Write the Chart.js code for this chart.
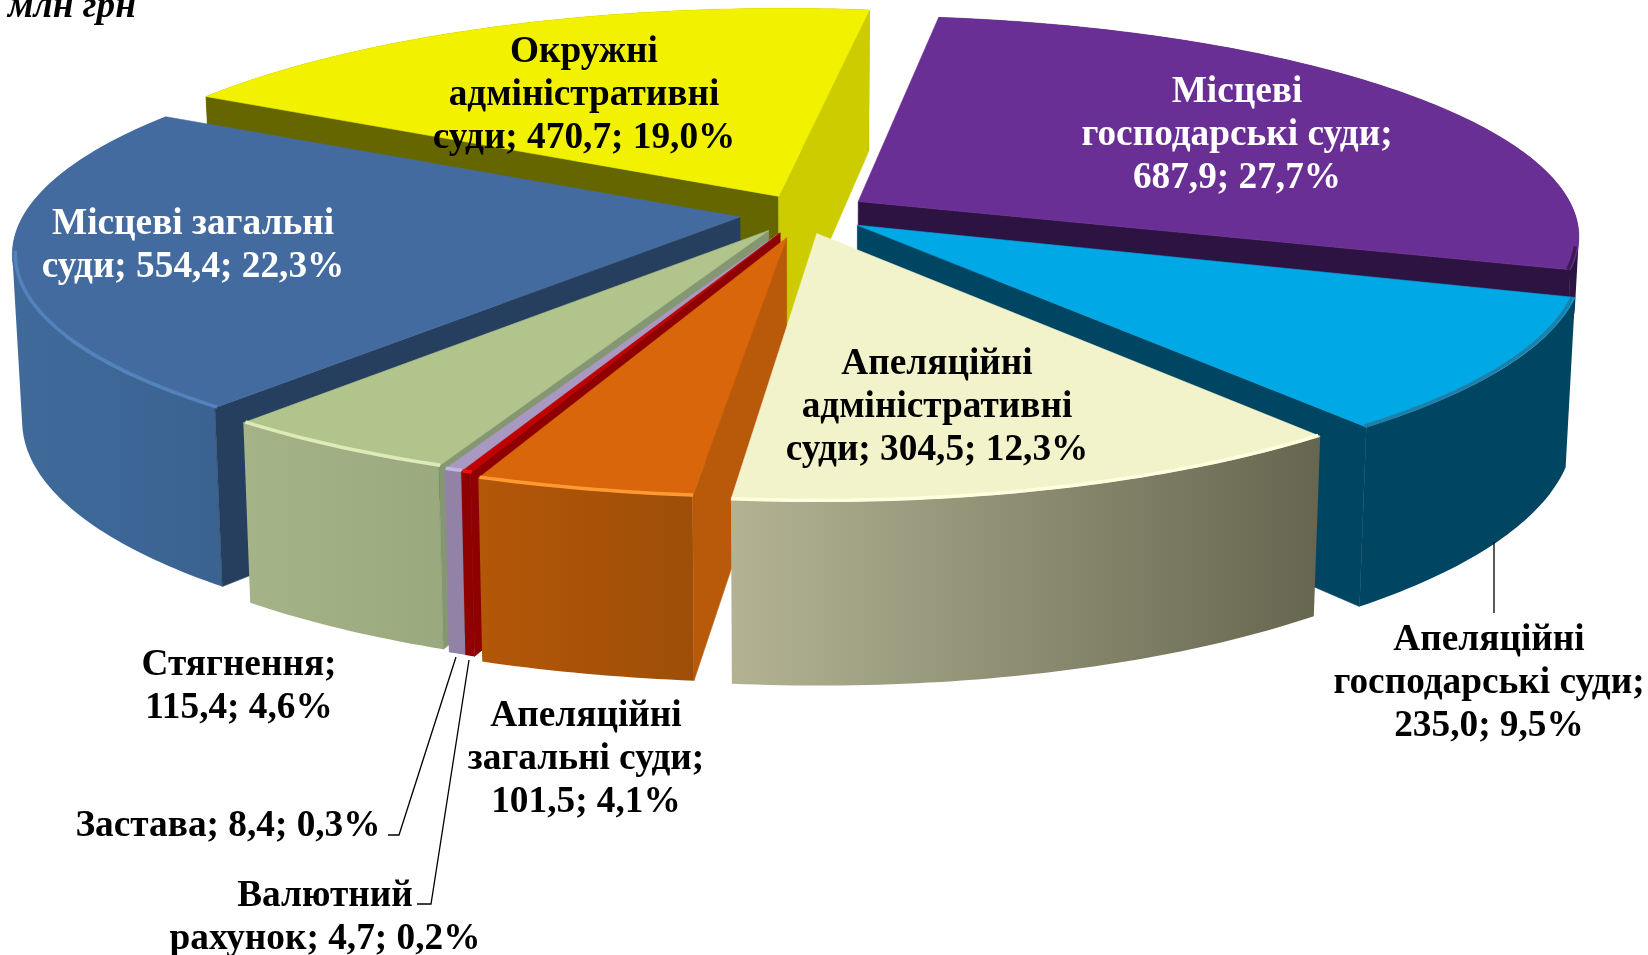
<!DOCTYPE html>
<html lang="uk"><head><meta charset="utf-8">
<style>html,body{margin:0;padding:0;background:#fff}canvas{display:block}</style>
<script src="https://cdn.jsdelivr.net/npm/chart.js@4"></script></head>
<body><canvas id="c" width="1648" height="955"></canvas>
<script>
const categories=['Місцеві господарські суди','Апеляційні господарські суди','Апеляційні адміністративні суди','Апеляційні загальні суди','Валютний рахунок','Застава','Стягнення','Місцеві загальні суди','Окружні адміністративні суди'];
const values=[687.9,235.0,304.5,101.5,4.7,8.4,115.4,554.4,470.7];
const topColors=['#6A2F94','#00A8E6','#F2F2CB','#D9660A','#C00000','#A999C2','#B0C48C','#446B9F','#F2F200'];
const explode=[.072,.072,.058,.09,.09,.09,.09,.1,.115];
// per-slice fine fit of the exploded wedge: [nudge x, nudge y, scale x, scale y, wall depth]
const fit=[[-1,-8,.98,.97,.4],[-1,-2,.975,1,1],[-10,3,.97,1,1],[-13,0,1,.96,1],[-11,-4,1,.96,1],[-10,-4,1,.96,1],[-12,-5,.98,.96,1],[-3,-5,.98,.97,1],[0,1,.99,1,1]];
const startCut=['#2D1342','#004561','#666650','#B85A0A','#8F0000','#857996','#859673','#263F5F','#666600'];
const endCut=['#2D1342','#004561','#666650','#B85A0A','#8F0000','#857996','#859673','#263F5F','#CCCC00'];
const wallFrom=['#2D1342','#004561','#B3B394','#B35708','#8F0000','#9182A6','#A5B488','#3F6A9A','#666600'];
const wallTo=['#2D1342','#004561','#666650','#9E4E08','#8F0000','#9182A6','#9AAA7E','#3A6391','#666600'];
const bevel=['#3D1B55','#1F7FA6','#FFFFDD','#FF9A33','#F01010','#C4B6DC','#DDEBB8','#5283BC','#F2F200'];
const paintOrder=[8,0,7,1,6,5,4,3,2];
const labelLines=[
 ['Місцеві','господарські суди;','687,9; 27,7%'],
 ['Апеляційні','господарські суди;','235,0; 9,5%'],
 ['Апеляційні','адміністративні','суди; 304,5; 12,3%'],
 ['Апеляційні','загальні суди;','101,5; 4,1%'],
 ['Валютний','рахунок; 4,7; 0,2%'],
 ['Застава; 8,4; 0,3%'],
 ['Стягнення;','115,4; 4,6%'],
 ['Місцеві загальні','суди; 554,4; 22,3%'],
 ['Окружні','адміністративні','суди; 470,7; 19,0%']];
const labelColor=['#fff','#000','#000','#000','#000','#000','#000','#fff','#000'];
const labelAt=[[1237,102],[1489,650],[937,374],[586,726],[325,906],[228,836],[239,675],[193,234],[584,62]];
const LINE=43, FONT='bold 37.3px "Liberation Serif"';
const leaders=[[[1494,542],[1494,613]],[[456,657],[399,835],[388,835]],[[469,660],[431,904],[417,904]]];
const unitLabel='млн грн';
// projection
const X0=815,Y0=218,RAD=730,KY=223,PERS=.152,SHR=.988;
function proj(u,v){const s=1/(1-PERS*v);return [X0+RAD*u*s,Y0+KY*v*s];}
function low(u,v){const p=proj(u,v);return [X0+(p[0]-X0)*SHR,p[1]+163+20*v];}
function poly(ctx,pts){ctx.beginPath();pts.forEach((p,i)=>i?ctx.lineTo(p[0],p[1]):ctx.moveTo(p[0],p[1]));ctx.closePath();}
const pie3d={id:'pie3d',
 beforeDatasetDraw(chart,args){
  const ctx=chart.ctx,arcs=chart.getDatasetMeta(args.index).data;
  ctx.save();ctx.lineJoin='round';
  paintOrder.forEach(i=>{
   const a=arcs[i],sa=a.startAngle,ea=a.endAngle,m=(sa+ea)/2,o=explode[i],[dx,dy,sx,sy,dp]=fit[i];
   const ou=o*Math.cos(m),ov=o*Math.sin(m),rim=[];
   const n=Math.max(2,Math.ceil((ea-sa)/.015));
   for(let k=0;k<=n;k++){const t=sa+(ea-sa)*k/n;rim.push([ou+Math.cos(t),ov+Math.sin(t)]);}
   const A0=proj(ou,ov);
   const tf=p=>[A0[0]+(p[0]-A0[0])*sx+dx,A0[1]+(p[1]-A0[1])*sy+dy];
   const drop=(u,v,t)=>{const p=proj(u,v),q=low(u,v);return [t[0]+(q[0]-p[0])*dp,t[1]+(q[1]-p[1])*dp];};
   const top=rim.map(q=>tf(proj(q[0],q[1])));
   const bot=rim.map((q,k)=>drop(q[0],q[1],top[k]));
   const A=tf(A0),Ab=drop(ou,ov,A);
   const midP=top[n>>1];
   const shows=E=>{const ex=E[0]-A[0],ey=E[1]-A[1];return ex*(midP[1]-A[1])-ey*(midP[0]-A[0])<0?ex>0:ex<0;};
   const fillQ=(p,c)=>{ctx.fillStyle=c;ctx.strokeStyle=c;ctx.lineWidth=.6;poly(ctx,p);ctx.fill();ctx.stroke();};
   const xs=top.map(p=>p[0]),g=ctx.createLinearGradient(Math.min(...xs),0,Math.max(...xs),0);
   g.addColorStop(0,wallFrom[i]);g.addColorStop(1,wallTo[i]);
   // all wall strips in one path, each wound the same way, so no seams show
   ctx.beginPath();
   for(let k=0;k<n;k++){
    let q=[top[k],top[k+1],bot[k+1],bot[k]];
    const ar=(q[1][0]-q[0][0])*(q[3][1]-q[0][1])-(q[1][1]-q[0][1])*(q[3][0]-q[0][0]);
    if(ar<0)q=q.slice().reverse();
    q.forEach((p,j)=>j?ctx.lineTo(p[0],p[1]):ctx.moveTo(p[0],p[1]));ctx.closePath();
   }
   ctx.fillStyle=g;ctx.fill('nonzero');
   if(shows(top[0]))fillQ([A,top[0],bot[0],Ab],startCut[i]);
   if(shows(top[n]))fillQ([A,top[n],bot[n],Ab],endCut[i]);
   fillQ([A].concat(top),a.options.backgroundColor);
   const front=[];rim.forEach((q,k)=>{if(q[1]>.16){const c=.996;front.push([A[0]+(top[k][0]-A[0])*c,A[1]+(top[k][1]-A[1])*c]);}});
   if(front.length>1){ctx.strokeStyle=bevel[i];ctx.lineWidth=3.5;ctx.beginPath();front.forEach((p,k)=>k?ctx.lineTo(p[0],p[1]):ctx.moveTo(p[0],p[1]));ctx.stroke();}
  });
  ctx.restore();
  return false;
 },
 afterDraw(chart){
  const ctx=chart.ctx;ctx.save();
  ctx.strokeStyle='#000';ctx.lineWidth=1.3;
  leaders.forEach(l=>{ctx.beginPath();l.forEach((p,k)=>k?ctx.lineTo(p[0],p[1]):ctx.moveTo(p[0],p[1]));ctx.stroke();});
  ctx.font=FONT;ctx.textAlign='center';ctx.textBaseline='alphabetic';
  labelLines.forEach((ls,i)=>{ctx.fillStyle=labelColor[i];ls.forEach((t,k)=>ctx.fillText(t,labelAt[i][0],labelAt[i][1]+k*LINE));});
  ctx.fillStyle='#000';ctx.textAlign='left';ctx.font='italic bold 37.3px "Liberation Serif"';ctx.fillText(unitLabel,8,17);
  ctx.restore();
 }};
new Chart(document.getElementById('c'),{type:'pie',data:{labels:categories,datasets:[{data:values,backgroundColor:topColors,borderWidth:0}]},
 options:{responsive:false,animation:false,rotation:8,plugins:{legend:{display:false},tooltip:{enabled:false}},events:[]},plugins:[pie3d]});
</script></body></html>
